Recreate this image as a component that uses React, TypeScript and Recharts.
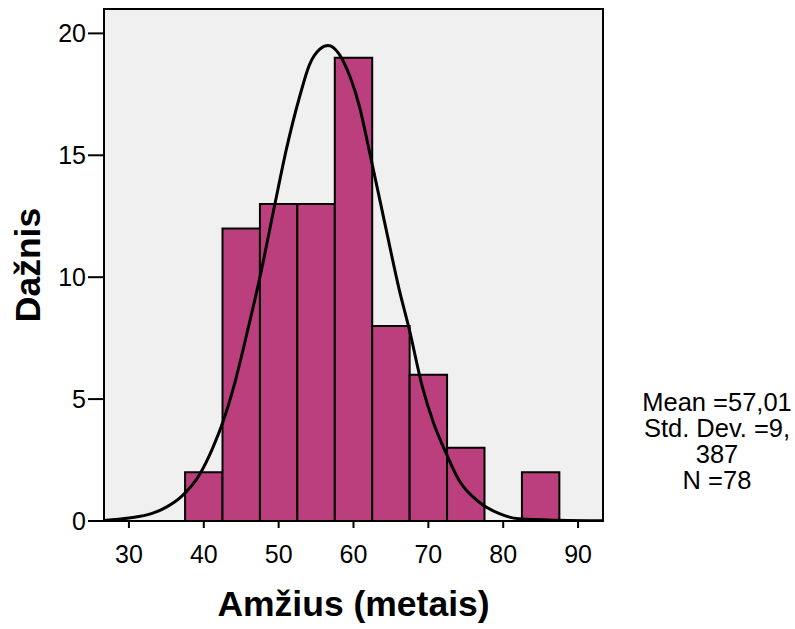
import { ComposedChart, XAxis, YAxis, Line, ReferenceArea, Label } from "recharts";

// histogram bins (Amžius, metais)
const binLower = [37.5, 42.5, 47.5, 52.5, 57.5, 62.5, 67.5, 72.5, 77.5, 82.5];
const binUpper = [42.5, 47.5, 52.5, 57.5, 62.5, 67.5, 72.5, 77.5, 82.5, 87.5];
const counts = [2, 12, 13, 13, 19, 8, 6, 3, 0, 2];

// normal curve
const curveX = [26.7, 30, 33, 35, 37, 39.5, 41.2, 42.6, 44, 46, 47.5, 49.5, 51, 52.8, 54.1, 55.5, 56.6, 58.1, 59.5, 60.8, 62.1, 64.4, 66.1, 67.5, 69.2, 70.6, 72.4, 74.1, 76.8, 79.5, 82.1, 87.5, 93.3];
const curveY = [0.02, 0.12, 0.3, 0.57, 1.0, 1.94, 3.0, 4.1, 5.5, 8.0, 10.0, 13.0, 15.2, 17.4, 18.7, 19.35, 19.5, 19.14, 18.25, 17.0, 15.2, 11.9, 9.5, 7.8, 5.5, 4.1, 2.76, 1.67, 0.77, 0.3, 0.09, 0.03, 0.01];

const xTicks = [30, 40, 50, 60, 70, 80, 90];
const yTicks = [0, 5, 10, 15, 20];
const statLines = ["Mean =57,01", "Std. Dev. =9,", "387", "N =78"];

const curveData = curveX.map((x, i) => ({ x, y: curveY[i] }));

const font = "'Liberation Sans', Arial, sans-serif";

export default function App() {
  return (
    <div style={{ position: "absolute", left: 0, top: 0, width: 795, height: 629, background: "#fff", fontFamily: font }}>
      <ComposedChart width={795} height={629} data={curveData}
        margin={{ top: 9, right: 192, bottom: 48, left: 44 }}>
        <XAxis dataKey="x" type="number" domain={[26.67, 93.33]} ticks={xTicks}
          allowDataOverflow height={60} stroke="#000" strokeWidth={2}
          tickSize={7} tickMargin={17}
          tick={{ fill: "#000", fontSize: 25, fontFamily: font }}>
          <Label value="Amžius (metais)" position="bottom" offset={10}
            style={{ fontSize: 35.5, fontWeight: "bold", fill: "#000", fontFamily: font }} />
        </XAxis>
        <YAxis type="number" domain={[0, 21]} ticks={yTicks} allowDataOverflow
          width={60} stroke="#000" strokeWidth={2} tickSize={16} tickMargin={2}
          tick={{ fill: "#000", fontSize: 25, fontFamily: font }}>
          <Label value="Dažnis" angle={-90} position="left" offset={17}
            style={{ fontSize: 35.5, fontWeight: "bold", fill: "#000", fontFamily: font, textAnchor: "middle" }} />
        </YAxis>
        <ReferenceArea x1={26.67} x2={93.33} y1={0} y2={21} fill="#F0F0F0" fillOpacity={1}
          stroke="#000" strokeWidth={2} />
        {counts.map((c, i) =>
          c > 0 ? (
            <ReferenceArea key={i} x1={binLower[i]} x2={binUpper[i]} y1={0} y2={c}
              fill="#BA3F7C" fillOpacity={1} stroke="#000" strokeWidth={2} />
          ) : null
        )}
        <Line dataKey="y" type="monotone" stroke="#000" strokeWidth={3} dot={false}
          activeDot={false} isAnimationActive={false} />
      </ComposedChart>
      <div style={{ position: "absolute", left: 632, top: 389, width: 170, textAlign: "center",
        fontSize: 25.5, lineHeight: "26px", color: "#000" }}>
        {statLines.map((s) => <div key={s}>{s}</div>)}
      </div>
    </div>
  );
}
